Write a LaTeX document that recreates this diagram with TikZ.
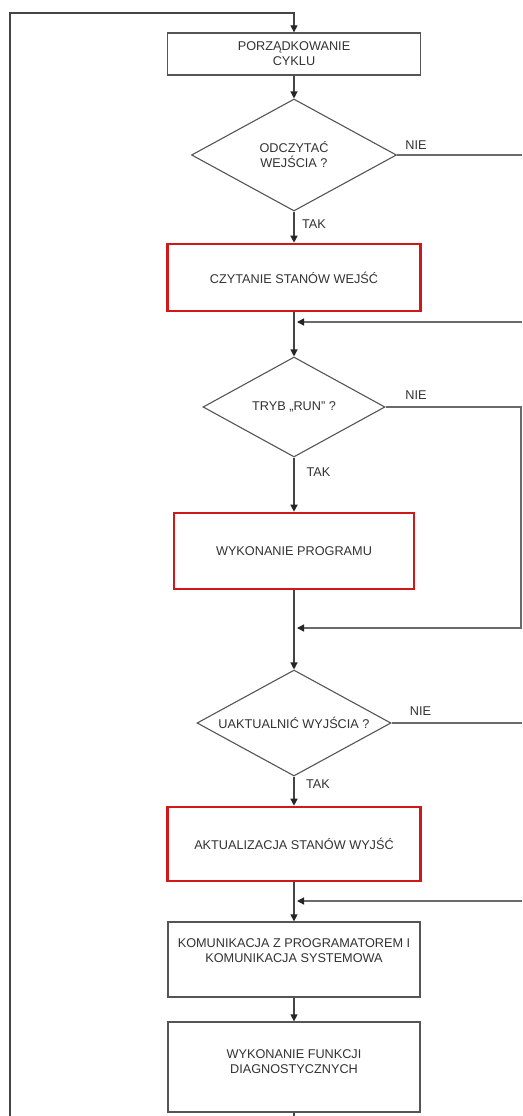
\documentclass[tikz,border=0pt]{standalone}
\usepackage{fontspec}
\setmainfont{Liberation Sans}
\usetikzlibrary{shapes.geometric,arrows.meta}
\definecolor{boxgray}{HTML}{555555}
\definecolor{linegray}{HTML}{444444}
\definecolor{sidegray}{HTML}{6A6A6A}
\definecolor{txtgray}{HTML}{333333}
\definecolor{boxred}{HTML}{D01818}
\tikzset{
  x=1pt,y=1pt,
  every node/.style={font=\fontsize{12.7}{15}\selectfont, text=txtgray},
  plainbox/.style={draw=boxgray, line width=1.3pt, rectangle, inner sep=0pt, align=center},
  redbox/.style={draw=boxred, line width=2.6pt, rectangle, inner sep=0pt, align=center},
  decision/.style={draw=boxgray, line width=1.1pt, diamond, aspect=2, inner sep=0pt, align=center},
  tip/.style={-{Triangle[length=7pt,width=7pt,color=black!85]}},
  flow/.style={draw=linegray, line width=1.3pt, tip},
  plain/.style={draw=linegray, line width=1.3pt},
  side/.style={draw=sidegray, line width=1.3pt},
  sidearrow/.style={draw=sidegray, line width=1.3pt, tip, shorten >=3pt},
  lbl/.style={inner sep=0pt}
}
\begin{document}
\begin{tikzpicture}
\useasboundingbox[fill=white] (0,0) rectangle (522,-1116);

\node[plainbox, minimum width=253, minimum height=42] (b1) at (294,-54) {PORZĄDKOWANIE\\CYKLU};
\node[decision, minimum width=205, minimum height=112] (d1) at (294,-155) {ODCZYTAĆ\\WEJŚCIA ?};
\node[redbox, minimum width=253, minimum height=67] (b2) at (294,-277.5) {CZYTANIE STANÓW WEJŚĆ};
\node[decision, minimum width=182, minimum height=100] (d2) at (294,-407) {TRYB „RUN” ?};
\node[redbox, minimum width=240, minimum height=76] (b3) at (294,-551) {WYKONANIE PROGRAMU};
\node[decision, minimum width=194, minimum height=106] (d3) at (294,-723) {UAKTUALNIĆ WYJŚCIA ?};
\node[redbox, minimum width=253, minimum height=74] (b4) at (294,-844) {AKTUALIZACJA STANÓW WYJŚĆ};
\node[plainbox, minimum width=252, minimum height=75] (b5) at (294,-959.5) {KOMUNIKACJA Z PROGRAMATOREM I\\KOMUNIKACJA SYSTEMOWA\\[2pt]\mbox{}};
\node[plainbox, minimum width=252, minimum height=90] (b6) at (294,-1067) {WYKONANIE FUNKCJI\\DIAGNOSTYCZNYCH\\[-4pt]\mbox{}};

% merge points and loop corners
\coordinate (m1) at (294,-322);
\coordinate (m2) at (294,-628);
\coordinate (m3) at (294,-901);
\coordinate (bot) at (294,-1116);
\coordinate (lb) at (10,-1116);
\coordinate (lt) at (10,-13);
\coordinate (ct) at (294,-13);
\coordinate (r1) at (522,-155);
\coordinate (r1b) at (522,-322);
\coordinate (r2a) at (521,-407);
\coordinate (r2b) at (521,-628);
\coordinate (r3) at (522,-723);
\coordinate (r3b) at (522,-901);

% main flow
\draw[flow] (lb) -- (lt) -- (ct) -- (b1.north);
\draw[flow] (b1.south) -- (d1.north);
\draw[flow] (d1.south) -- (b2.north);
\draw[plain] (b2.south) -- (m1);
\draw[flow] (m1) -- (d2.north);
\draw[flow] (d2.south) -- (b3.north);
\draw[plain] (b3.south) -- (m2);
\draw[flow] (m2) -- (d3.north);
\draw[flow] (d3.south) -- (b4.north);
\draw[plain] (b4.south) -- (m3);
\draw[flow] (m3) -- (b5.north);
\draw[flow] (b5.south) -- (b6.north);
\draw[plain] (b6.south) -- (bot);

% NIE branches
\draw[side] (d1.east) -- (r1);
\draw[sidearrow] (r1b) -- (m1);
\draw[sidearrow] (d2.east) -- (r2a) -- (r2b) -- (m2);
\draw[side] (d3.east) -- (r3);
\draw[sidearrow] (r3b) -- (m3);

% labels
\node[lbl] (n1) at (416,-145) {NIE};
\node[lbl] (t1) at (314,-224) {TAK};
\node[lbl] (n2) at (416,-395) {NIE};
\node[lbl] (t2) at (318.5,-472) {TAK};
\node[lbl] (n3) at (420.5,-711) {NIE};
\node[lbl] (t3) at (318,-784) {TAK};
\end{tikzpicture}
\end{document}
